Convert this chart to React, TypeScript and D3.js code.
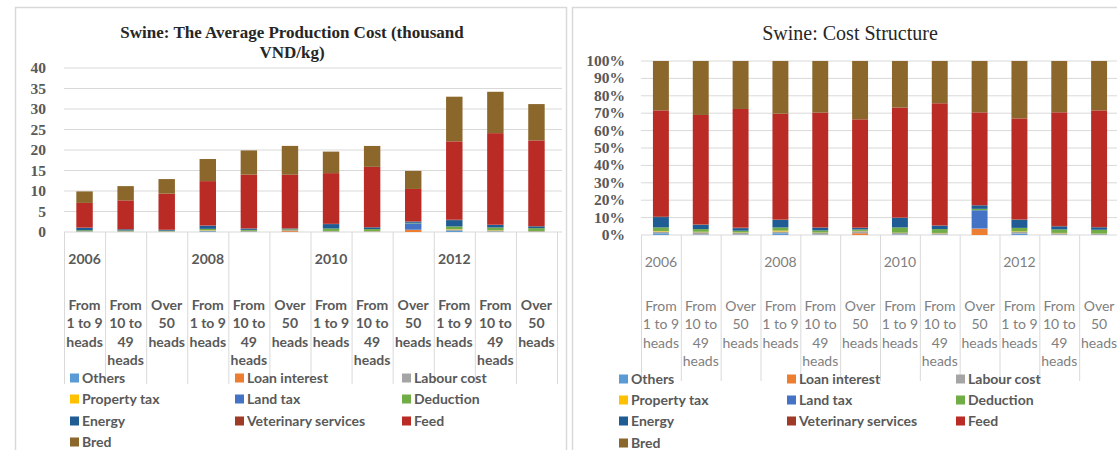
import React from 'react';
import * as d3 from 'd3';

// ---------- data ----------
const categories = [
  "From 1 to 9 heads", "From 10 to 49 heads", "Over 50 heads",
  "From 1 to 9 heads", "From 10 to 49 heads", "Over 50 heads",
  "From 1 to 9 heads", "From 10 to 49 heads", "Over 50 heads",
  "From 1 to 9 heads", "From 10 to 49 heads", "Over 50 heads",
];
const years = ["2006", "", "", "2008", "", "", "2010", "", "", "2012", "", ""];

const seriesNames = [
  "Others", "Loan interest", "Labour cost", "Property tax", "Land tax",
  "Deduction", "Energy", "Veterinary services", "Feed", "Bred",
];

// thousand VND / kg
const others = [0.10, 0.03, 0.03, 0.18, 0.04, 0, 0.06, 0.04, 0, 0.26, 0.07, 0.03];
const loanInterest = [0, 0, 0, 0, 0, 0.21, 0, 0, 0.52, 0, 0, 0];
const labourCost = [0.10, 0.15, 0.13, 0.18, 0.20, 0.25, 0.16, 0.17, 0.04, 0.33, 0.27, 0.19];
const propertyTax = [0.03, 0.03, 0.03, 0.09, 0.04, 0.04, 0.04, 0.04, 0, 0.10, 0.07, 0.03];
const landTax = [0, 0, 0, 0, 0, 0, 0, 0, 1.56, 0, 0, 0];
const deduction = [0.20, 0.17, 0.13, 0.32, 0.24, 0.17, 0.59, 0.46, 0.12, 0.66, 0.68, 0.69];
const energy = [0.59, 0.28, 0.19, 0.77, 0.32, 0.17, 1.08, 0.42, 0.30, 1.55, 0.62, 0.44];
const veterinary = [0.05, 0.03, 0.04, 0.05, 0.06, 0.06, 0.06, 0.06, 0.03, 0.10, 0.07, 0.06];
const feed = [6.02, 7.03, 8.80, 10.82, 13.09, 13.06, 12.37, 14.70, 7.93, 19.11, 22.33, 20.90];
const bred = [2.81, 3.47, 3.56, 5.39, 5.91, 7.04, 5.25, 5.10, 4.40, 10.89, 10.09, 8.86];

const seriesValues = [others, loanInterest, labourCost, propertyTax, landTax, deduction, energy, veterinary, feed, bred];

const seriesColors = [
  "#5B9BD5", "#ED7D31", "#A5A5A5", "#FFC000", "#4472C4",
  "#70AD47", "#1F5C94", "#9E3A26", "#BA2B26", "#8B672C",
];

const costTicks = [0, 5, 10, 15, 20, 25, 30, 35, 40];
const pctTicks = [0, 0.1, 0.2, 0.3, 0.4, 0.5, 0.6, 0.7, 0.8, 0.9, 1];

const rows = categories.map((c, i) => {
  const r: any = { idx: i };
  seriesNames.forEach((k, j) => { r[k] = seriesValues[j][i]; });
  return r;
});

function labelLines(c: string): string[] {
  if (c.startsWith("From 1 to 9")) return ["From", "1 to 9", "heads"];
  if (c.startsWith("From 10 to 49")) return ["From", "10 to", "49", "heads"];
  return ["Over", "50", "heads"];
}

const sansFont = "Lato, 'Open Sans', sans-serif";
const serifFont = "'Liberation Serif', 'DejaVu Serif', serif";

type PanelProps = {
  frameX: number; frameW: number;
  x0: number; x1: number; yTop: number; yBottom: number;
  percent: boolean;
  titleLines: string[]; titleY: number; titleX: number; titleSize: number; titleWeight: string;
  tickX: number; gridRight: number;
  yearY: number; catY: number; dividerBottom: number; catWeight: string; catColor: string;
  legendX: number[]; legendY: number[];
};

function Panel(p: PanelProps) {
  const x = d3.scaleBand<number>().domain(categories.map((_, i) => i)).range([p.x0, p.x1]).padding(0);
  const bw = x.bandwidth();
  const barW = bw * 0.4;
  const maxV = p.percent ? 1 : 40;
  const y = d3.scaleLinear().domain([0, maxV]).range([p.yBottom, p.yTop]);
  const stack = d3.stack<any>().keys(seriesNames).offset(p.percent ? d3.stackOffsetExpand : d3.stackOffsetNone);
  const layers = stack(rows);
  const ticks = p.percent ? pctTicks : costTicks;
  const fmt = p.percent ? d3.format(".0%") : d3.format("d");

  return (
    <g>
      <rect x={p.frameX + 0.5} y={7.5} width={p.frameW} height={470} fill="#fff" stroke="#d9d9d9" strokeWidth={1.5} />
      {p.titleLines.map((t, i) => (
        <text key={i} x={p.titleX} y={p.titleY + i * 20} textAnchor="middle" fontFamily={serifFont}
          fontSize={p.titleSize} fontWeight={p.titleWeight} fill="#262626">{t}</text>
      ))}
      {ticks.map((t) => (
        <g key={t}>
          <line x1={p.x0} x2={p.gridRight} y1={y(t)} y2={y(t)} stroke="#d9d9d9" strokeWidth={1} />
          <text x={p.tickX} y={y(t) + 5} textAnchor="end" fontFamily={serifFont} fontWeight="bold"
            fontSize={15.5} fill="#595959">{fmt(t)}</text>
        </g>
      ))}
      {layers.map((layer, si) => (
        <g key={seriesNames[si]} fill={seriesColors[si]}>
          {layer.map((d, i) => {
            const top = y(d[1]);
            const h = y(d[0]) - top;
            return <rect key={i} x={(x(i) as number) + (bw - barW) / 2} y={top} width={barW} height={Math.max(0, h)} />;
          })}
        </g>
      ))}
      {categories.map((c, i) => (
        <line key={"d" + i} x1={(x(i) as number) + 0.5} x2={(x(i) as number) + 0.5} y1={p.yBottom} y2={p.dividerBottom}
          stroke="#d9d9d9" strokeWidth={1} />
      ))}
      <line x1={p.x1 + 0.5} x2={p.x1 + 0.5} y1={p.yBottom} y2={p.dividerBottom} stroke="#d9d9d9" />
      {categories.map((c, i) => (
        <g key={"l" + i}>
          {years[i] ? (
            <text x={(x(i) as number) + bw / 2} y={p.yearY} textAnchor="middle" fontFamily={sansFont}
              fontWeight={p.catWeight} fontSize={14} fill={p.catColor}>{years[i]}</text>
          ) : null}
          {labelLines(c).map((ln, k) => (
            <text key={k} x={(x(i) as number) + bw / 2} y={p.catY + k * 18.4} textAnchor="middle" fontFamily={sansFont}
              fontWeight={p.catWeight} fontSize={14} fill={p.catColor}>{ln}</text>
          ))}
        </g>
      ))}
      {seriesNames.map((s, i) => {
        const col = i % 3;
        const row = Math.floor(i / 3);
        const lx = p.legendX[col];
        const ly = p.legendY[row];
        return (
          <g key={"lg" + s}>
            <rect x={lx} y={ly - 4.5} width={9} height={9} fill={seriesColors[i]} />
            <text x={lx + 12} y={ly + 5} fontFamily={sansFont} fontWeight="bold" fontSize={14} fill="#595959">{s}</text>
          </g>
        );
      })}
    </g>
  );
}

export default function App() {
  return (
    <svg width={1117} height={450} style={{ position: 'absolute', left: 0, top: 0, background: '#fff' }}>
      <rect x={0} y={0} width={1117} height={450} fill="#fff" />
      <Panel frameX={15} frameW={551} x0={64} x1={557} yTop={68} yBottom={232} percent={false}
        titleLines={["Swine: The Average Production Cost (thousand", "VND/kg)"]} titleX={292} titleY={38}
        titleSize={17} titleWeight="bold" tickX={46} gridRight={562}
        yearY={264} catY={310} dividerBottom={384} catWeight="bold" catColor="#595959"
        legendX={[70, 235, 402]} legendY={[378, 399, 421, 442]} />
      <Panel frameX={572} frameW={560} x0={641} x1={1119} yTop={61} yBottom={235} percent={true}
        titleLines={["Swine: Cost Structure"]} titleX={850} titleY={40}
        titleSize={20} titleWeight="normal" tickX={625} gridRight={1117}
        yearY={267} catY={311} dividerBottom={381} catWeight="normal" catColor="#7f7f7f"
        legendX={[619, 787, 956]} legendY={[379, 400, 421, 443]} />
    </svg>
  );
}
